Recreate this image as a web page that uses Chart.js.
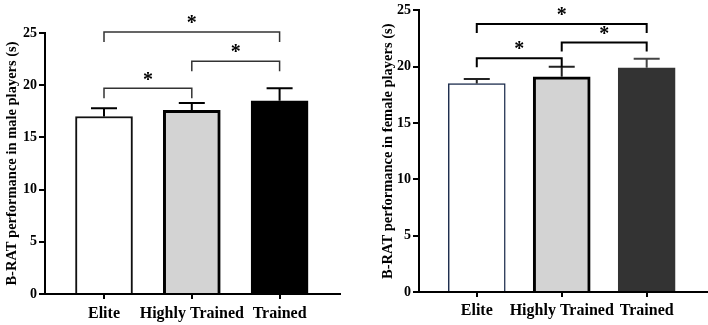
<!DOCTYPE html>
<html>
<head>
<meta charset="utf-8">
<script src="https://cdn.jsdelivr.net/npm/chart.js@4"></script>
<style>
  body { margin: 0; background: #fff; }
  #wrap { position: relative; width: 708px; height: 325px; }
  canvas { position: absolute; top: 0; }
</style>
</head>
<body>
<div id="wrap">
  <canvas id="male" width="354" height="325" style="left:0"></canvas>
  <canvas id="female" width="354" height="325" style="left:354px"></canvas>
</div>
<script>
// groups on the x axis
var categories = ['Elite', 'Highly Trained', 'Trained'];
var yTicks = [0, 5, 10, 15, 20, 25];

// male players: mean and SD (s)
var maleMean = [17.0, 17.6, 18.5];
var maleSD = [0.8, 0.7, 1.2];
// brackets: [from group, to group, height in s]
var maleBrackets = [[0, 2, 25.1], [1, 2, 22.3], [0, 1, 19.7]];

// female players: mean and SD (s)
var femaleMean = [18.5, 19.1, 19.9];
var femaleSD = [0.4, 0.9, 0.8];
var femaleBrackets = [[0, 2, 23.8], [1, 2, 22.15], [0, 1, 20.75]];

Chart.defaults.font.family = '"Liberation Serif", "Times New Roman", serif';
Chart.defaults.font.weight = 'bold';
Chart.defaults.color = '#000';

// draws mean + SD whiskers and significance brackets
var extras = {
  id: 'extras',
  afterDatasetsDraw: function(chart, args, opts) {
    var ctx = chart.ctx;
    var xs = chart.scales.x, ys = chart.scales.y;
    ctx.save();
    opts.sd.forEach(function(sd, i) {
      var x = xs.getPixelForValue(i);
      var y0 = ys.getPixelForValue(opts.mean[i]);
      var y1 = ys.getPixelForValue(opts.mean[i] + sd);
      ctx.strokeStyle = opts.errColors[i];
      ctx.lineWidth = 2;
      ctx.beginPath();
      ctx.moveTo(x, y0);
      ctx.lineTo(x, y1);
      ctx.moveTo(x - 13, y1);
      ctx.lineTo(x + 13, y1);
      ctx.stroke();
    });
    opts.brackets.forEach(function(b) {
      var xa = xs.getPixelForValue(b[0]);
      var xb = xs.getPixelForValue(b[1]);
      var y = ys.getPixelForValue(b[2]);
      ctx.strokeStyle = opts.bracketColor;
      ctx.lineWidth = opts.bracketWidth;
      ctx.beginPath();
      ctx.moveTo(xa, y + opts.leg);
      ctx.lineTo(xa, y);
      ctx.lineTo(xb, y);
      ctx.lineTo(xb, y + opts.leg);
      ctx.stroke();
      ctx.fillStyle = '#000';
      ctx.font = 'bold 20px "Liberation Serif"';
      ctx.textAlign = 'center';
      ctx.textBaseline = 'middle';
      ctx.fillText('*', (xa + xb) / 2, y - 8);
    });
    ctx.restore();
  }
};

function makeChart(id, mean, sd, fills, borders, widths, errColors, title, brackets, xr, pad, yw, xh, bracketColor, bracketWidth, leg, xPad) {
  new Chart(document.getElementById(id), {
    type: 'bar',
    data: {
      datasets: [{
        data: mean.map(function(v, i) { return { x: i, y: v }; }),
        backgroundColor: fills,
        borderColor: borders,
        borderWidth: widths,
        borderSkipped: 'bottom',
        barThickness: 57
      }]
    },
    options: {
      responsive: false,
      animation: false,
      layout: { padding: pad },
      plugins: {
        legend: { display: false },
        tooltip: { enabled: false },
        extras: { mean: mean, sd: sd, errColors: errColors, brackets: brackets,
                  bracketColor: bracketColor, bracketWidth: bracketWidth, leg: leg }
      },
      scales: {
        x: {
          type: 'linear',
          offset: false,
          min: xr[0],
          max: xr[1],
          afterFit: function(s) { s.height = xh; },
          afterBuildTicks: function(s) { s.ticks = categories.map(function(c, i) { return { value: i }; }); },
          ticks: {
            autoSkip: false,
            maxRotation: 0,
            minRotation: 0,
            padding: xPad,
            font: { size: 16, weight: 'bold' },
            callback: function(v) { return categories[v]; }
          },
          grid: { offset: false, drawOnChartArea: false, tickLength: 5, color: '#000', lineWidth: 2 },
          border: { color: '#000', width: 2 }
        },
        y: {
          min: 0,
          max: 25,
          afterFit: function(s) { s.width = yw; },
          afterBuildTicks: function(s) { s.ticks = yTicks.map(function(v) { return { value: v }; }); },
          ticks: { padding: 2, font: { size: 14, weight: 'bold' } },
          grid: { drawOnChartArea: false, tickLength: 6, color: '#000', lineWidth: 2 },
          border: { color: '#000', width: 2 },
          title: { display: true, text: title, padding: 4, font: { size: 14.5, weight: 'bold' } }
        }
      }
    },
    plugins: [extras]
  });
}

makeChart('male', maleMean, maleSD,
  ['#ffffff', '#d3d3d3', '#000000'], ['#111', '#000', '#000'], [2, 3, 2],
  ['#000', '#000', '#000'],
  'B-RAT performance in male players (s)', maleBrackets,
  [-0.672, 2.688], { top: 33, right: 14, left: 0, bottom: 0 }, 45, 31, '#333', 1.5, 10, 5);

makeChart('female', femaleMean, femaleSD,
  ['#ffffff', '#d3d3d3', '#333333'], ['#1f2f4f', '#000', '#333'], [1.5, 3, 2],
  ['#222', '#222', '#444'],
  'B-RAT performance in female players (s)', femaleBrackets,
  [-0.68, 2.71], { top: 8, right: 1, left: 22, bottom: 0 }, 43, 33, '#000', 2, 9, 4);
</script>
</body>
</html>
